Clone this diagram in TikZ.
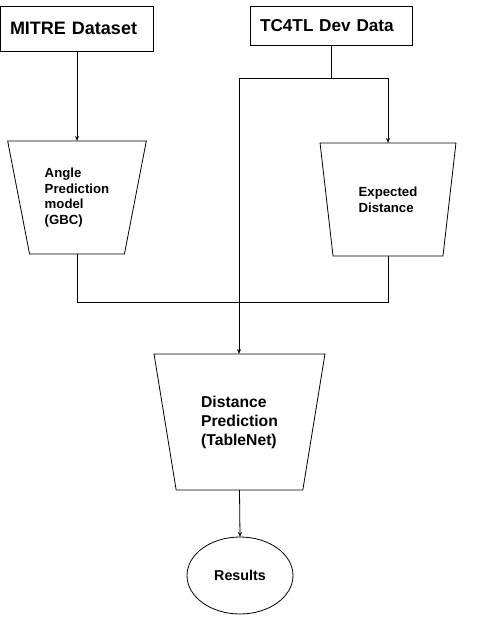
\documentclass[tikz,border=0pt]{standalone}
\usepackage{fontspec}
\setmainfont{Liberation Sans}
\usetikzlibrary{shapes.geometric,arrows.meta}
\begin{document}
\begin{tikzpicture}[x=1pt,y=-1pt,
  every node/.style={font=\bfseries},
  ln/.style={line width=0.8pt,draw=black},
  arr/.style={ln,-{Stealth[length=5pt,width=4pt]}},
  databox/.style={draw,line width=0.8pt,inner ysep=0pt,inner xsep=10pt,outer sep=0pt,align=left},
  trap/.style={draw,line width=0.8pt,trapezium,trapezium stretches=true,trapezium left angle=104,trapezium right angle=104,inner sep=2pt,outer sep=0pt,align=left},
]
\useasboundingbox (0,0) rectangle (483,631);
\node[databox,text width=133pt,minimum height=45pt,font=\bfseries\fontsize{18}{21}\selectfont] (mitre) at (76.5,28.5) {MITRE Dataset};
\node[databox,text width=142pt,minimum height=39pt,font=\bfseries\fontsize{17.2}{20}\selectfont] (tc) at (331,25.5) {TC4TL Dev Data};
\node[trap,minimum width=140pt,minimum height=113pt,font=\bfseries\fontsize{13.2}{15.7}\selectfont] (t1) at (77,197.5) {Angle\\Prediction\\model\\(GBC)};
\node[trap,minimum width=136pt,minimum height=113pt,font=\bfseries\fontsize{13.2}{16}\selectfont] (t2) at (388,199.5) {Expected\\Distance};
\node[trap,minimum width=171pt,minimum height=136pt,font=\bfseries\fontsize{15.7}{19}\selectfont] (t3) at (239.5,422) {Distance\\Prediction\\(TableNet)};
\node[draw,line width=0.8pt,ellipse,minimum width=106pt,minimum height=77pt,inner sep=0pt,outer sep=0pt,font=\bfseries\fontsize{14.3}{17}\selectfont] (res) at (240,575.5) {Results};
\coordinate (jt) at (239,78);
\coordinate (hb) at (0,302);
\draw[arr] (mitre.south -| t1.north) -- (t1.north);
\draw[ln] (tc.south) -- (tc.south |- jt);
\draw[ln] (jt) -- (t2.north |- jt);
\draw[arr] (t2.north |- jt) -- (t2.north);
\draw[arr] (jt) -- (jt |- t3.north);
\draw[ln] (t1.south) |- (t2.south |- hb) -- (t2.south);
\draw[arr] (t3.south) -- (res.north);
\end{tikzpicture}
\end{document}
